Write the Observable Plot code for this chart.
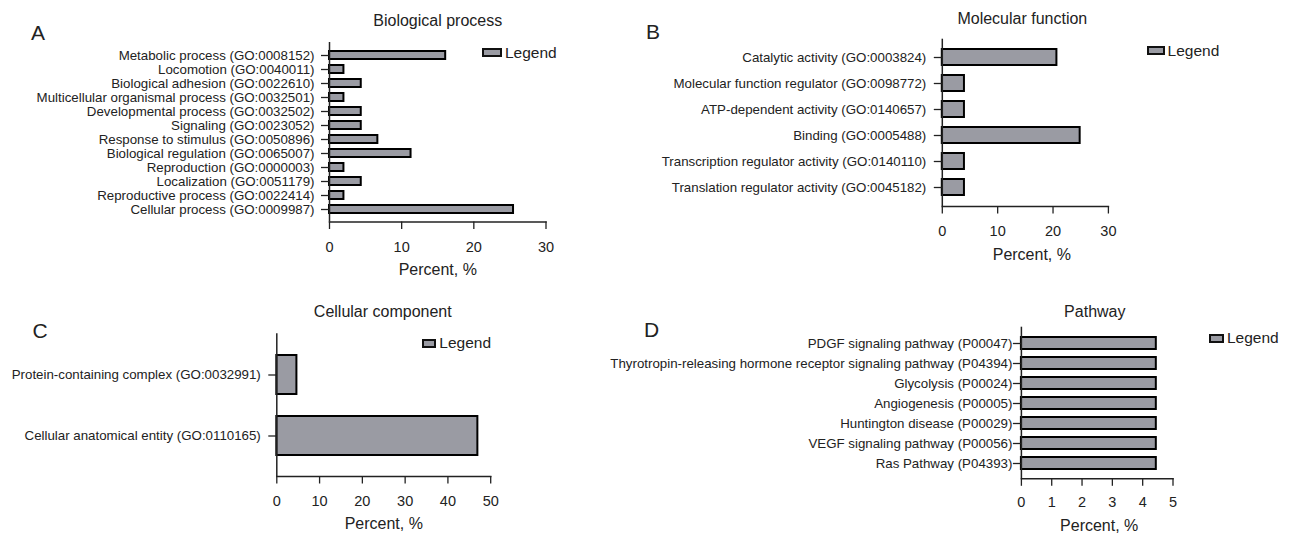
<!DOCTYPE html>
<html><head><meta charset="utf-8">
<script src="https://cdn.jsdelivr.net/npm/d3@7"></script>
<script src="https://cdn.jsdelivr.net/npm/@observablehq/plot@0.6"></script>
<style>
body{margin:0;background:#fff;}
#wrap{position:relative;width:1289px;height:533px;overflow:hidden;font-family:"Liberation Sans",Arial,Helvetica,sans-serif;color:#222;}
.panel{position:absolute;}
.letter{position:absolute;font-size:21px;line-height:21px;height:21px;color:#222;}
.legend{position:absolute;display:flex;align-items:center;font-size:15.5px;line-height:18px;height:18px;color:#222;}
.legend .sw{box-sizing:border-box;border:2px solid #111;background:#9a9ba3;margin-right:3px;height:9px;}
</style></head><body><div id="wrap"></div>
<script>
// ---------- data ----------
const bpCategories = ["Metabolic process (GO:0008152)", "Locomotion (GO:0040011)", "Biological adhesion (GO:0022610)", "Multicellular organismal process (GO:0032501)", "Developmental process (GO:0032502)", "Signaling (GO:0023052)", "Response to stimulus (GO:0050896)", "Biological regulation (GO:0065007)", "Reproduction (GO:0000003)", "Localization (GO:0051179)", "Reproductive process (GO:0022414)", "Cellular process (GO:0009987)"];
const bpValues = [16.1, 2.0, 4.4, 2.0, 4.4, 4.4, 6.7, 11.3, 2.0, 4.4, 2.0, 25.5];
const bpTicks = [0, 10, 20, 30];

const mfCategories = ["Catalytic activity (GO:0003824)", "Molecular function regulator (GO:0098772)", "ATP-dependent activity (GO:0140657)", "Binding (GO:0005488)", "Transcription regulator activity (GO:0140110)", "Translation regulator activity (GO:0045182)"];
const mfValues = [20.7, 4.0, 4.0, 24.9, 4.0, 4.0];
const mfTicks = [0, 10, 20, 30];

const ccCategories = ["Protein-containing complex (GO:0032991)", "Cellular anatomical entity (GO:0110165)"];
const ccValues = [4.7, 47.0];
const ccTicks = [0, 10, 20, 30, 40, 50];

const pwCategories = ["PDGF signaling pathway (P00047)", "Thyrotropin-releasing hormone receptor signaling pathway (P04394)", "Glycolysis (P00024)", "Angiogenesis (P00005)", "Huntington disease (P00029)", "VEGF signaling pathway (P00056)", "Ras Pathway (P04393)"];
const pwValues = [4.45, 4.45, 4.45, 4.45, 4.45, 4.45, 4.45];
const pwTicks = [0, 1, 2, 3, 4, 5];

const panelTitles = ["Biological process", "Molecular function", "Cellular component", "Pathway"];
const panelLetters = ["A", "B", "C", "D"];
const axisLabel = "Percent, %";
const legendLabel = "Legend";

// ---------- layout (styles/positions only) ----------
const FILL = "#9a9ba3";
const layouts = [
  {left:0, top:0, width:600, height:290, x0:329, x1:545.5, yTop:42, yAxis:221.5, pi:0.45, po:0.37, ytp:7, xtp:12.5, lblDy:47.5, lblDx:0, ttlDy:-21.3, ttlDx:0,
   leg:{x:482, cy:52.8, w:20}, let:{x:31, cy:32}},
  {left:600, top:0, width:689, height:290, x0:941.8, x1:1107.9, yTop:38.7, yAxis:206, pi:0.39, po:0.375, ytp:8, xtp:11.5, lblDy:48, lblDx:6.5, ttlDy:-20.4, ttlDx:-3,
   leg:{x:1147, cy:50.7, w:17.6}, let:{x:646, cy:31.7}},
  {left:0, top:290, width:600, height:243, x0:276.3, x1:490.2, yTop:333.3, yAxis:476, pi:0.357, po:0.34, ytp:8, xtp:11.5, lblDy:47.3, lblDx:0, ttlDy:-21.6, ttlDx:-1,
   leg:{x:422, cy:343.3, w:14.3}, let:{x:32.5, cy:330}},
  {left:600, top:290, width:689, height:243, x0:1020.9, x1:1172.5, yTop:326.7, yAxis:478.3, pi:0.405, po:0.37, ytp:1, xtp:10.8, lblDy:47.4, lblDx:2, ttlDy:-15.7, ttlDx:-2.4,
   leg:{x:1209.4, cy:338, w:14.6}, let:{x:644, cy:329}}
];
const series = [
  [bpCategories, bpValues, bpTicks],
  [mfCategories, mfValues, mfTicks],
  [ccCategories, ccValues, ccTicks],
  [pwCategories, pwValues, pwTicks]
];

const wrap = document.getElementById("wrap");
series.forEach(([cats, vals, ticks], i) => {
  const L = layouts[i];
  const data = cats.map((c, j) => ({c, v: vals[j]}));
  const chart = Plot.plot({
    width: L.width, height: L.height,
    marginLeft: L.x0 - L.left,
    marginRight: L.left + L.width - L.x1,
    marginTop: L.yTop - L.top,
    marginBottom: L.top + L.height - L.yAxis,
    style: {background: "transparent", fontFamily: '"Liberation Sans", Arial, Helvetica, sans-serif', fontSize: "13.3px", color: "#222", overflow: "visible"},
    x: {domain: [ticks[0], ticks[ticks.length - 1]], ticks: ticks, label: null},
    y: {domain: cats, paddingInner: L.pi, paddingOuter: L.po, label: null},
    marks: [
      Plot.barX(data, {x: "v", y: "c", fill: FILL, stroke: "#000", strokeWidth: 2}),
      Plot.ruleX([0], {stroke: "#222", strokeWidth: 1.5}),
      Plot.frame({anchor: "bottom", stroke: "#222", strokeWidth: 1.5}),
      Plot.axisY({tickSize: 8, tickPadding: L.ytp, fontSize: 13.3, strokeWidth: 1.3, label: null}),
      Plot.axisX({ticks: ticks, tickSize: 7.5, tickPadding: L.xtp, fontSize: 14.5, strokeWidth: 1.3, label: null, tickFormat: d3.format("d")}),
      Plot.text([axisLabel], {frameAnchor: "bottom", lineAnchor: "middle", dy: L.lblDy, dx: L.lblDx, fontSize: 16, fill: "#222"}),
      Plot.text([panelTitles[i]], {frameAnchor: "top", lineAnchor: "middle", dy: L.ttlDy, dx: L.ttlDx, fontSize: 16, fill: "#222"})
    ]
  });
  chart.classList.add("panel");
  chart.style.left = L.left + "px";
  chart.style.top = L.top + "px";
  wrap.appendChild(chart);

  const leg = document.createElement("div");
  leg.className = "legend";
  leg.style.left = L.leg.x + "px";
  leg.style.top = (L.leg.cy - 9) + "px";
  const sw = document.createElement("span");
  sw.className = "sw";
  sw.style.width = L.leg.w + "px";
  leg.appendChild(sw);
  leg.appendChild(document.createTextNode(legendLabel));
  wrap.appendChild(leg);

  const lt = document.createElement("div");
  lt.className = "letter";
  lt.style.left = L.let.x + "px";
  lt.style.top = (L.let.cy - 10.5) + "px";
  lt.textContent = panelLetters[i];
  wrap.appendChild(lt);
});
</script></body></html>
